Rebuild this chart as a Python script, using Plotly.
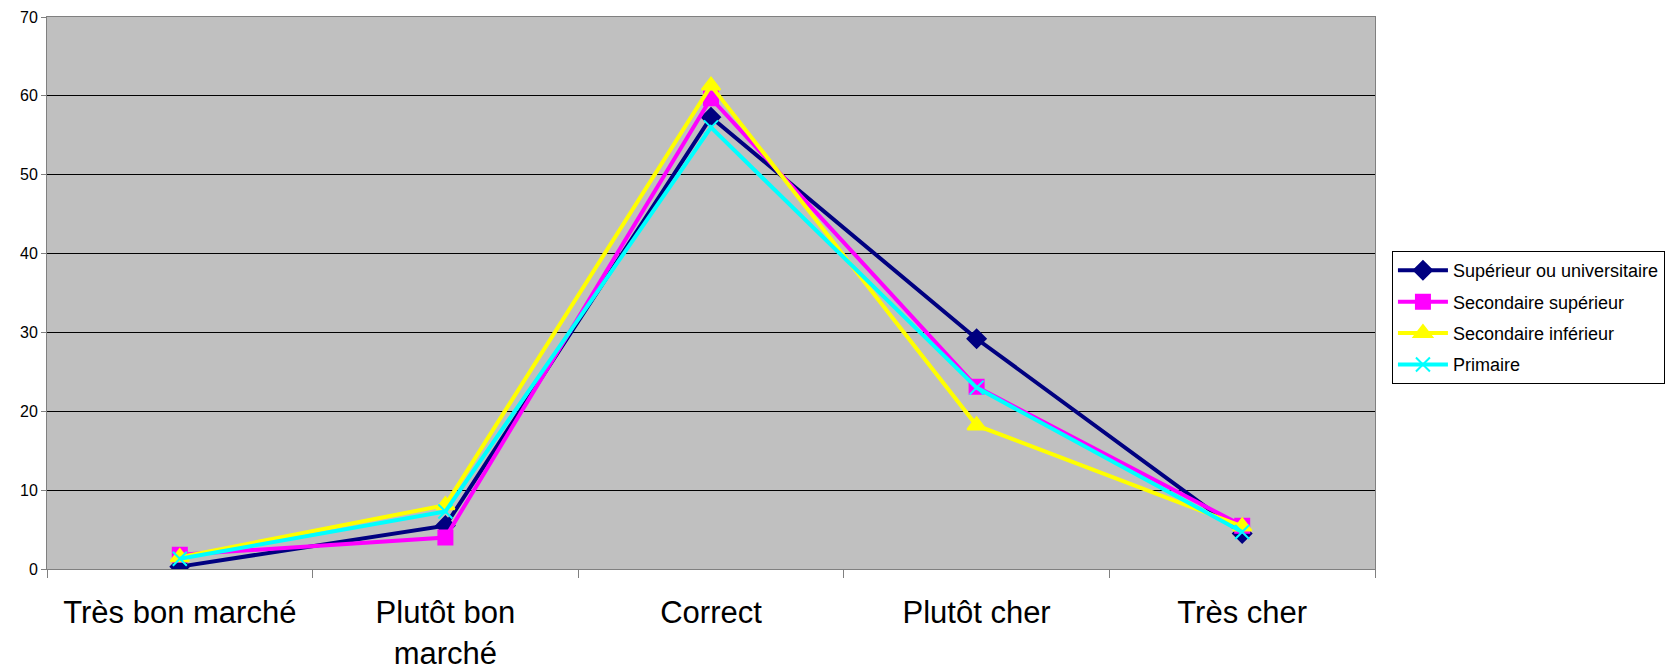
import plotly.graph_objects as go

categories = ["Très bon marché", "Plutôt bon<br>marché", "Correct", "Plutôt cher", "Très cher"]

superieur_univ = [0.3, 5.5, 57.3, 29.2, 4.5]
secondaire_sup = [1.8, 4.0, 59.7, 23.1, 5.5]
secondaire_inf = [1.5, 8.1, 61.3, 18.2, 5.4]
primaire = [1.3, 7.3, 56.0, 23.0, 4.7]

series_names = [
    "Supérieur ou universitaire",
    "Secondaire supérieur",
    "Secondaire inférieur",
    "Primaire",
]
series_values = [superieur_univ, secondaire_sup, secondaire_inf, primaire]
series_colors = ["#000080", "#FF00FF", "#FFFF00", "#00FFFF"]
series_symbols = ["diamond", "square", "triangle-up", "x-thin-open"]
marker_sizes = [14, 14, 16, 14]

fig = go.Figure()
x_idx = list(range(len(categories)))
for name, vals, col, sym, ms in zip(series_names, series_values, series_colors,
                                    series_symbols, marker_sizes):
    fig.add_trace(go.Scatter(
        x=x_idx, y=vals, name=name, mode="lines+markers",
        line=dict(color=col, width=4),
        marker=dict(symbol=sym, size=ms, color=col,
                    line=dict(color=col, width=2)),
        legendgroup=name,
    ))

font_family = "Liberation Sans, Arial, sans-serif"

# category separators drawn as minor ticks between the labels
boundaries = [i - 0.5 for i in range(len(categories) + 1)]

fig.update_layout(
    width=1676, height=672,
    margin=dict(l=47, r=300, t=17, b=103),
    paper_bgcolor="white",
    plot_bgcolor="#C0C0C0",
    font=dict(family=font_family, color="black"),
    showlegend=True,
    legend=dict(
        x=1.012, xanchor="left", y=0.576, yanchor="top",
        bgcolor="white", bordercolor="black", borderwidth=1,
        font=dict(size=18, family=font_family, color="black"),
        tracegroupgap=5, itemwidth=50,
    ),
    xaxis=dict(
        range=[-0.5, 4.5], automargin=False,
        tickmode="array", tickvals=x_idx, ticktext=categories,
        ticks="", ticklen=8,
        minor=dict(tickmode="array", tickvals=boundaries, ticks="outside",
                   ticklen=8, tickcolor="#808080", showgrid=False),
        tickfont=dict(size=31, family=font_family),
        ticklabelstandoff=16,
        showgrid=False, zeroline=False,
        showline=True, linecolor="#808080", linewidth=1, mirror=True,
    ),
    yaxis=dict(
        range=[0, 70], dtick=10, automargin=False,
        ticks="outside", ticklen=5, tickcolor="#808080",
        tickfont=dict(size=16, family=font_family),
        showgrid=True, gridcolor="black", gridwidth=1,
        zeroline=False,
        showline=True, linecolor="#808080", linewidth=1, mirror=True,
    ),
)

fig.write_html("out.html")
